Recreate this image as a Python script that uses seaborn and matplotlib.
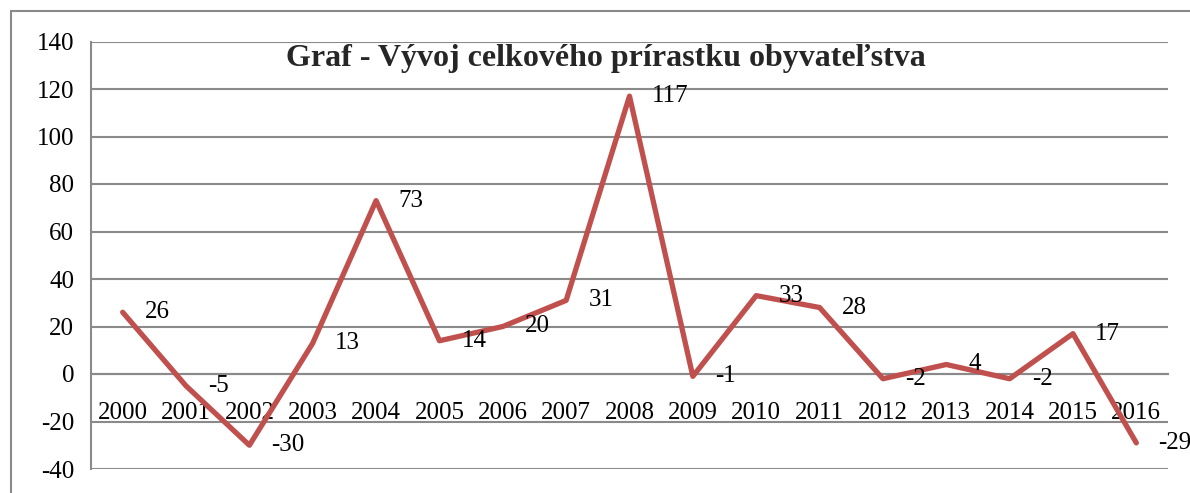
import matplotlib
matplotlib.use("Agg")
import matplotlib.pyplot as plt
import seaborn as sns
import pandas as pd
from matplotlib.patches import Rectangle

years = ["2000", "2001", "2002", "2003", "2004", "2005", "2006", "2007", "2008",
         "2009", "2010", "2011", "2012", "2013", "2014", "2015", "2016"]
values = [26, -5, -30, 13, 73, 14, 20, 31, 117, -1, 33, 28, -2, 4, -2, 17, -29]
y_ticks = [-40, -20, 0, 20, 40, 60, 80, 100, 120, 140]
title = "Graf - Vývoj celkového prírastku obyvateľstva"

sns.set_style("white")
plt.rcParams["font.family"] = ["Liberation Serif", "DejaVu Serif"]

W, H = 1190, 493
fig = plt.figure(figsize=(W / 100, H / 100), dpi=100)
ax = fig.add_axes([91 / W, 1 - 469 / H, (1168 - 91) / W, (469 - 41.5) / H])

df = pd.DataFrame({"x": range(len(years)), "v": values})
grid_c = "#8a8a8a"
for t in y_ticks:
    ax.axhline(t, color=grid_c, lw=1.5, zorder=1)

sns.lineplot(data=df, x="x", y="v", ax=ax, color="#C0504D", lw=3.8, zorder=3)

for i, v in enumerate(values):
    ax.annotate(str(v), (i, v), xytext=(16, 0), textcoords="offset points",
                ha="left", va="center", fontsize=18, color="black", zorder=4)

ax.set_xlim(-0.5, len(years) - 0.5)
ax.set_ylim(-40, 140)
ax.set_yticks(y_ticks)
ax.set_yticklabels([str(t) for t in y_ticks])
ax.set_xticks(range(len(years)))
ax.set_xticklabels(years)
ax.set_xticks([i - 0.5 for i in range(len(years) + 1)], minor=True)
ax.tick_params(axis="both", which="both", labelsize=18, labelcolor="black")
ax.tick_params(axis="x", which="major", length=0, pad=20)
ax.tick_params(axis="x", which="minor", length=6, width=1.5, color=grid_c, direction="out")
ax.tick_params(axis="y", which="major", length=6, width=1.5, color=grid_c, direction="out", pad=6)
ax.set_xlabel("")
ax.set_ylabel("")

for s in ["top", "right"]:
    ax.spines[s].set_visible(False)
ax.spines["bottom"].set_position(("data", 0))
ax.spines["bottom"].set_color(grid_c)
ax.spines["bottom"].set_linewidth(1.5)
ax.spines["left"].set_color(grid_c)
ax.spines["left"].set_linewidth(1.5)

fig.text(606 / W, 1 - 66 / H, title, ha="center", va="baseline",
         fontsize=23, fontweight="bold")

fig.patches.append(Rectangle((11 / W, -0.1), 1.2, 1 - 11 / H + 0.1,
                             transform=fig.transFigure, fill=False,
                             edgecolor="#8a8a8a", lw=1.5, zorder=0))

fig.savefig("out.png", dpi=100)
